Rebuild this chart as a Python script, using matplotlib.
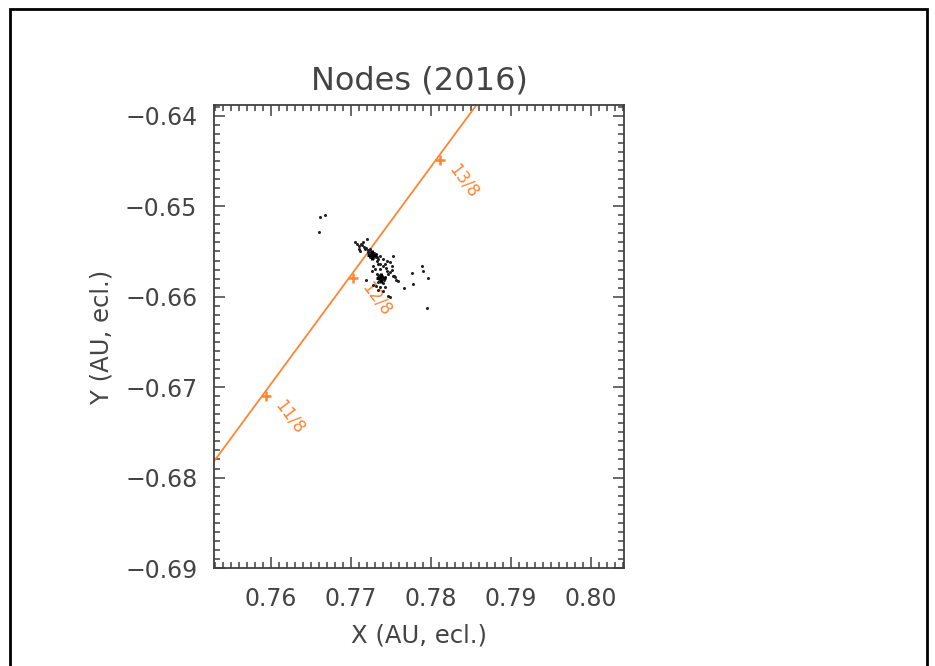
import matplotlib
matplotlib.use("Agg")
import matplotlib.pyplot as plt
from matplotlib.patches import Rectangle
from matplotlib.ticker import MultipleLocator, FuncFormatter


TITLE = "Nodes (2016)"
X_LABEL = "X (AU, ecl.)"
Y_LABEL = "Y (AU, ecl.)"

X_TICKS = [0.76, 0.77, 0.78, 0.79, 0.80]
Y_TICKS = [-0.64, -0.65, -0.66, -0.67, -0.68, -0.69]

# Earth orbit segment (ecliptic X, Y)
ORBIT_X = [0.7529, 0.7862]
ORBIT_Y = [-0.6782, -0.6382]

# daily positions on the orbit
DATE_LABELS = ["11/8", "12/8", "13/8"]
DATE_X = [0.75938, 0.77025, 0.78113]
DATE_Y = [-0.67103, -0.65796, -0.64490]

# meteoroid node positions
NODE_X = [
    0.76613, 0.76675, 0.76600,
    0.77050, 0.77100, 0.77150, 0.77200, 0.77113, 0.77175, 0.77213, 0.77238,
    0.77250, 0.77263, 0.77275, 0.77263, 0.77250, 0.77225, 0.77288, 0.77238,
    0.77275, 0.77300, 0.77313, 0.77325, 0.77363, 0.77400, 0.77450, 0.77488,
    0.77525, 0.77513, 0.77363, 0.77400, 0.77275, 0.77263, 0.77300, 0.77363,
    0.77450, 0.77488, 0.77525, 0.77550, 0.77588, 0.77663, 0.77763, 0.77888,
    0.77900, 0.77963, 0.77775, 0.77950, 0.77188, 0.77275, 0.77363, 0.77400,
    0.77463, 0.77488,
    0.77338, 0.77350, 0.77363, 0.77375, 0.77388, 0.77363, 0.77388, 0.77400,
    0.77350, 0.77375, 0.77413, 0.77338, 0.77400, 0.77425, 0.77325,
    0.77188, 0.77213, 0.77288, 0.77313, 0.77338, 0.77238, 0.77138, 0.77075,
    0.77100, 0.77125, 0.77163, 0.77225, 0.77325, 0.77338, 0.77425, 0.77438,
    0.77463, 0.77513, 0.77538, 0.77563, 0.77425, 0.77313, 0.77338,
]
NODE_Y = [
    -0.65121, -0.65099, -0.65287,
    -0.65398, -0.65442, -0.65398, -0.65364, -0.65497, -0.65475, -0.65508, -0.65519,
    -0.65530, -0.65541, -0.65530, -0.65552, -0.65508, -0.65541, -0.65552, -0.65563,
    -0.65575, -0.65541, -0.65563, -0.65563, -0.65552, -0.65586, -0.65608, -0.65619,
    -0.65552, -0.65663, -0.65641, -0.65663, -0.65663, -0.65719, -0.65697, -0.65697,
    -0.65719, -0.65730, -0.65774, -0.65785, -0.65829, -0.65907, -0.65741, -0.65663,
    -0.65719, -0.65796, -0.65862, -0.66128, -0.65818, -0.65874, -0.65896, -0.65940,
    -0.65995, -0.66006,
    -0.65763, -0.65774, -0.65785, -0.65796, -0.65807, -0.65818, -0.65774, -0.65796,
    -0.65807, -0.65829, -0.65818, -0.65840, -0.65851, -0.65785, -0.65752,
    -0.65464, -0.65486, -0.65519, -0.65530, -0.65586, -0.65475, -0.65431, -0.65420,
    -0.65475, -0.65420, -0.65453, -0.65486, -0.65608, -0.65641, -0.65641, -0.65686,
    -0.65752, -0.65708, -0.65774, -0.65818, -0.65896, -0.65885, -0.65930,
]

# mean node positions of the two groups
MEAN_X = [0.77263, 0.77375]
MEAN_Y = [-0.65541, -0.65796]

ORANGE = "#ff8533"
TEXT = "#444444"

plt.rcParams["font.family"] = ["DejaVu Sans"]

fig = plt.figure(figsize=(9.35, 6.66), dpi=100)
ax = fig.add_axes([214 / 935, 1 - 568 / 666, 410 / 935, 463 / 666])

ax.plot(ORBIT_X, ORBIT_Y, color=ORANGE, lw=1.3, zorder=2)
ax.plot(DATE_X, DATE_Y, ls="none", marker="+", ms=7, mew=1.8, color=ORANGE, zorder=3)

for label, x, y in zip(DATE_LABELS, DATE_X, DATE_Y):
    ax.annotate(label, (x, y), xytext=(24, -21), textcoords="offset pixels",
                ha="center", va="center", rotation=-53, color=ORANGE, fontsize=12)

ax.plot(NODE_X, NODE_Y, ls="none", marker="o", ms=2.2, mew=0, color="#202020", zorder=4)
ax.plot(MEAN_X, MEAN_Y, ls="none", marker="+", ms=7, mew=2.2, color="black", zorder=5)

ax.set_xlim(0.7529, 0.80415)
ax.set_ylim(-0.6900, -0.6388)

ax.set_xticks(X_TICKS)
ax.set_yticks(Y_TICKS)
ax.xaxis.set_minor_locator(MultipleLocator(0.001))
ax.yaxis.set_minor_locator(MultipleLocator(0.001))

fmt = FuncFormatter(lambda v, _: f"{v:.2f}".replace("-", "\u2212"))
ax.xaxis.set_major_formatter(fmt)
ax.yaxis.set_major_formatter(fmt)

ax.tick_params(which="both", direction="in", top=True, right=True,
               color="#404040", width=1.1, labelsize=17, labelcolor=TEXT)
ax.tick_params(which="major", length=8)
ax.tick_params(which="minor", length=4)
ax.tick_params(axis="x", pad=14)
ax.tick_params(axis="y", pad=12)

for spine in ax.spines.values():
    spine.set_color("#404040")
    spine.set_linewidth(1.3)

ax.set_title(TITLE, fontsize=23, color=TEXT, pad=11)
ax.set_xlabel(X_LABEL, fontsize=17.5, color=TEXT, labelpad=9)
ax.set_ylabel(Y_LABEL, fontsize=17.5, color=TEXT, labelpad=8)

fig.patches.append(Rectangle((10 / 935, -0.01), 917 / 935, 1 - 9 / 666 + 0.01,
                             transform=fig.transFigure, fill=False,
                             edgecolor="black", lw=2))

fig.savefig("out.png", dpi=100)
